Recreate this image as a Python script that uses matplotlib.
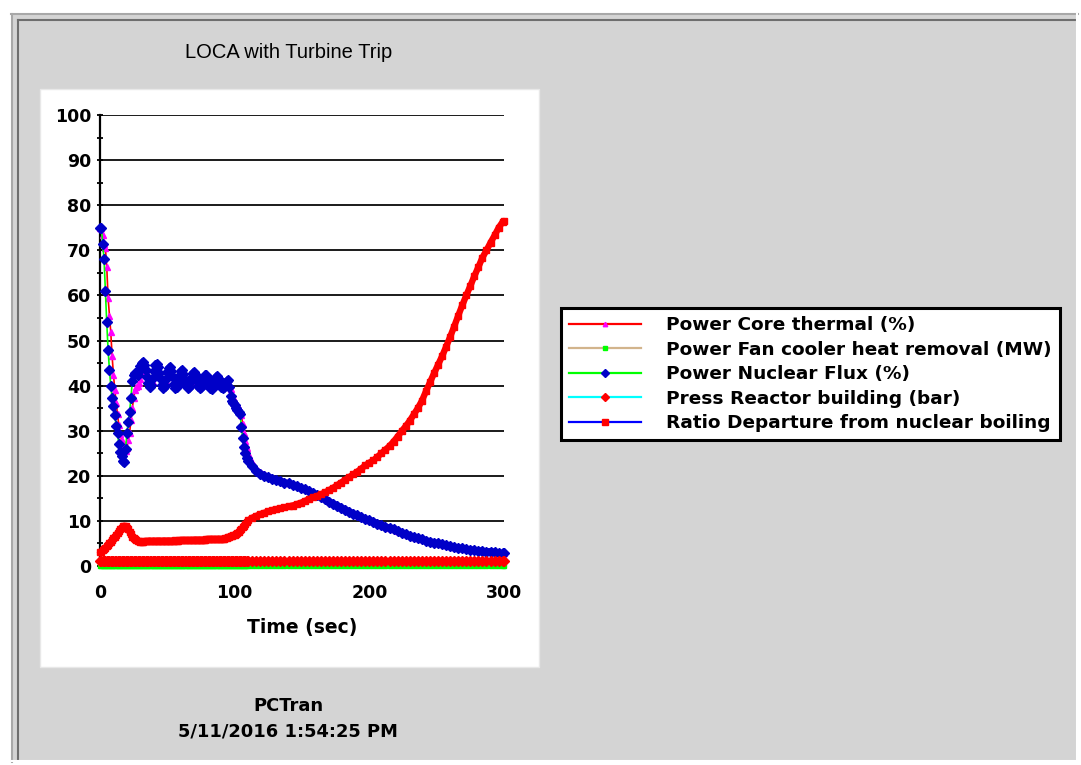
import matplotlib
matplotlib.use('Agg')
import matplotlib.pyplot as plt
from matplotlib.patches import Rectangle
from matplotlib.lines import Line2D
from matplotlib.ticker import MultipleLocator

W, H = 1081, 765

# sample times (sec): every second up to 110 s, then every 3 s
t_early = list(range(0, 111))
t_late = list(range(113, 300, 3)) + [300]

flux_early = [
    75.0, 75.0, 71.5, 68.0, 61.0, 54.0, 48.0, 43.5, 40.0, 37.2,
    35.5, 33.4, 31.1, 29.5, 27.0, 25.3, 24.3, 23.3, 23.1, 26.0,
    29.5, 32.0, 34.2, 37.3, 41.0, 42.3, 42.7, 42.7, 42.3, 43.2,
    44.3, 45.0, 45.3, 44.6, 43.4, 42.0, 40.6, 39.7, 40.2, 41.6,
    43.3, 44.5, 44.9, 44.2, 42.9, 41.4, 40.1, 39.5, 40.0, 41.5,
    43.0, 43.9, 44.1, 43.2, 41.8, 40.4, 39.5, 39.6, 40.8, 42.2,
    43.2, 43.5, 42.6, 41.3, 40.1, 39.4, 39.7, 40.9, 42.0, 42.8,
    43.0, 42.3, 41.1, 40.0, 39.4, 39.6, 40.6, 41.7, 42.3, 42.4,
    41.6, 40.4, 39.5, 39.3, 40.0, 41.1, 41.9, 42.2, 41.5, 40.4,
    39.6, 39.4, 39.8, 40.6, 41.1, 41.3, 39.6, 37.6, 36.6, 36.1,
    35.6, 35.1, 34.6, 34.2, 33.8, 30.8, 28.4, 26.3, 25.0, 24.0,
    23.3]
flux_late = [
    22.1, 21.0, 20.4, 20.0, 19.7, 19.4, 19.1, 18.8, 18.5, 18.3,
    18.0, 17.7, 17.3, 17.0, 16.6, 16.1, 15.7, 15.3, 14.8, 14.3,
    13.8, 13.4, 12.9, 12.5, 12.0, 11.6, 11.2, 10.8, 10.4, 10.1,
    9.8, 9.4, 9.1, 8.7, 8.4, 8.1, 7.7, 7.3, 7.0, 6.7,
    6.4, 6.1, 5.9, 5.6, 5.4, 5.2, 5.0, 4.8, 4.6, 4.4,
    4.2, 4.0, 3.9, 3.7, 3.6, 3.5, 3.4, 3.3, 3.2, 3.2,
    3.1, 2.9, 2.8, 2.8]

thermal_early = [
    75.0, 75.0, 73.5, 71.5, 70.5, 66.4, 59.5, 55.5, 51.8, 46.5,
    42.4, 39.0, 36.2, 33.6, 31.2, 29.2, 28.0, 26.8, 25.7, 25.5,
    26.2, 28.0, 29.6, 32.4, 35.0, 37.3, 39.0, 39.6, 40.0, 40.6,
    41.5, 42.6, 43.4, 43.6, 43.2, 42.4, 41.4, 40.6, 40.4, 40.9,
    41.9, 42.9, 43.4, 43.3, 42.6, 41.6, 40.7, 40.2, 40.4, 41.1,
    42.1, 42.8, 43.0, 42.7, 41.9, 41.0, 40.3, 40.1, 40.5, 41.3,
    42.1, 42.5, 42.4, 41.8, 41.0, 40.3, 40.1, 40.4, 41.1, 41.8,
    42.2, 42.2, 41.7, 41.0, 40.3, 40.0, 40.2, 40.8, 41.4, 41.8,
    41.8, 41.3, 40.6, 40.0, 39.8, 40.1, 40.7, 41.2, 41.4, 41.1,
    40.5, 40.0, 39.8, 40.0, 40.4, 40.7, 40.3, 39.2, 38.0, 37.2,
    36.6, 36.0, 35.5, 35.0, 34.6, 33.5, 31.5, 29.4, 27.7, 26.2,
    24.9]
thermal_late = [
    22.9, 21.5, 20.8, 20.3, 19.9, 19.6, 19.3, 19.0, 18.7, 18.5,
    18.2, 17.9, 17.5, 17.2, 16.8, 16.3, 15.9, 15.5, 15.0, 14.5,
    14.0, 13.6, 13.1, 12.7, 12.2, 11.8, 11.4, 11.0, 10.6, 10.3,
    9.9, 9.6, 9.2, 8.9, 8.5, 8.2, 7.8, 7.5, 7.1, 6.8,
    6.5, 6.2, 6.0, 5.7, 5.5, 5.3, 5.1, 4.9, 4.7, 4.5,
    4.3, 4.1, 4.0, 3.8, 3.7, 3.6, 3.5, 3.4, 3.3, 3.3,
    3.2, 3.0, 2.9, 2.9]

dnbr_early = [
    3.0, 3.2, 3.5, 3.8, 4.1, 4.4, 4.7, 5.0, 5.3, 5.7,
    6.1, 6.5, 6.9, 7.3, 7.7, 8.1, 8.5, 8.8, 8.9, 8.8,
    8.5, 8.1, 7.5, 7.0, 6.5, 6.2, 5.9, 5.7, 5.6, 5.5,
    5.4, 5.4, 5.4, 5.5, 5.5, 5.5, 5.5, 5.6, 5.5, 5.5,
    5.6, 5.5, 5.5, 5.6, 5.6, 5.5, 5.5, 5.6, 5.6, 5.5,
    5.6, 5.6, 5.6, 5.5, 5.6, 5.6, 5.7, 5.6, 5.6, 5.7,
    5.7, 5.7, 5.7, 5.7, 5.7, 5.7, 5.7, 5.7, 5.7, 5.7,
    5.8, 5.8, 5.8, 5.8, 5.8, 5.8, 5.8, 5.8, 5.8, 5.9,
    5.9, 5.9, 5.9, 5.9, 5.9, 5.9, 5.9, 5.9, 6.0, 5.9,
    5.9, 5.9, 6.0, 6.2, 6.3, 6.4, 6.5, 6.6, 6.7, 6.8,
    6.9, 7.1, 7.3, 7.6, 7.9, 8.2, 8.6, 8.9, 9.3, 9.7,
    10.1]
dnbr_late = [
    10.7, 11.1, 11.5, 11.8, 12.1, 12.4, 12.6, 12.8, 13.0, 13.2,
    13.4, 13.7, 14.0, 14.4, 14.8, 15.2, 15.5, 15.9, 16.3, 16.8,
    17.3, 17.9, 18.5, 19.1, 19.7, 20.3, 20.9, 21.6, 22.3, 22.9,
    23.4, 24.2, 25.0, 25.8, 26.6, 27.6, 28.7, 29.9, 31.0, 32.2,
    33.6, 35.0, 36.6, 38.7, 40.7, 42.7, 44.6, 46.5, 48.6, 50.8,
    53.1, 55.5, 57.8, 60.0, 62.1, 64.3, 66.3, 68.4, 70.0, 71.7,
    73.3, 75.0, 76.3, 76.5]

t = t_early + t_late
flux = flux_early + flux_late
thermal = thermal_early + thermal_late
dnbr = dnbr_early + dnbr_late
press = [1.0] * len(t)      # reactor building pressure stays ~1 bar
fan = [0.0] * len(t)        # fan cooler heat removal stays ~0

labels = ['Power Core thermal (%)',
          'Power Fan cooler heat removal (MW)',
          'Power Nuclear Flux (%)',
          'Press Reactor building (bar)',
          'Ratio Departure from nuclear boiling']

plt.rcParams['font.family'] = ['DejaVu Sans']

def fx(x):
    return x / W

def fy(y):
    return 1 - y / H

fig = plt.figure(figsize=(W / 100, H / 100), dpi=100)
fig.patch.set_facecolor('white')

# window panel with sunken border
fig.add_artist(Rectangle((fx(11), fy(762)), (1078 - 11) / W, (762 - 13) / H,
                         transform=fig.transFigure, facecolor='#d4d4d4',
                         edgecolor='none', zorder=0))
for xs, ys, c in [((11, 1078), (14, 14), '#a8a8a8'), ((12, 12), (14, 762), '#a8a8a8'),
                  ((18, 1075), (20, 20), '#6e6e6e'), ((18, 18), (20, 759), '#6e6e6e'),
                  ((12, 1078), (761, 761), 'white'), ((1077, 1077), (14, 761), 'white')]:
    fig.add_artist(Line2D([fx(xs[0]), fx(xs[1])], [fy(ys[0]), fy(ys[1])],
                          transform=fig.transFigure, color=c, lw=1.5, zorder=1))

# white chart box
fig.add_artist(Rectangle((fx(40), fy(667)), (539 - 40) / W, (667 - 89) / H,
                         transform=fig.transFigure, facecolor='white',
                         edgecolor='#e8e8e8', lw=1, zorder=1))

ax = fig.add_axes([fx(100), fy(566), (504 - 100) / W, (566 - 115) / H])
ax.set_facecolor('none')
ax.set_zorder(2)

# (x, y, line colour, marker, marker size, marker colour, band width, band from index)
series = [
    (t, thermal, 'red', '^', 4, 'magenta', 3.5, 110),
    (t, fan, '#d2b48c', 's', 3.5, '#00ff00', 2.5, 0),
    (t, flux, '#00ff00', 'D', 5, '#0000c8', 5, 110),
    (t, press, 'cyan', 'D', 5, 'red', 4.5, 0),
    (t, dnbr, 'blue', 's', 4.6, 'red', 4.6, 0),
]
handles = []
for i, (x, y, lc, mk, ms, mc, bw, b0) in enumerate(series):
    z = 3 + i
    ax.plot(x, y, color=lc, lw=1.2, clip_on=False, zorder=z)
    # densely sampled stretches show as a solid band of markers
    ax.plot(x[b0:], y[b0:], color=mc, lw=bw, clip_on=False, zorder=z + 0.1,
            solid_capstyle='round', solid_joinstyle='round')
    ax.plot(x, y, ls='none', marker=mk, ms=ms, mfc=mc, mec=mc,
            clip_on=False, zorder=z + 0.2)
    handles.append(Line2D([], [], color=lc, lw=1.6, marker=mk, ms=ms * 0.8,
                          mfc=mc, mec=mc))

ax.set_xlim(0, 300)
ax.set_ylim(0, 100)
ax.xaxis.set_major_locator(MultipleLocator(100))
ax.xaxis.set_minor_locator(MultipleLocator(50))
ax.yaxis.set_major_locator(MultipleLocator(10))
ax.yaxis.set_minor_locator(MultipleLocator(5))
ax.yaxis.grid(True, which='major', color='#1a1a1a', lw=1.4)
ax.set_axisbelow(True)
for s in ['top', 'right']:
    ax.spines[s].set_visible(False)
ax.spines['left'].set_linewidth(1.6)
ax.spines['bottom'].set_linewidth(1.4)
ax.tick_params(axis='both', which='both', direction='inout', length=4.5,
               width=1.3, labelsize=12.5)
ax.tick_params(axis='y', pad=4)
ax.tick_params(axis='x', pad=11)
for lab in ax.get_xticklabels() + ax.get_yticklabels():
    lab.set_fontweight('bold')

fig.text(fx(302), fy(628), 'Time (sec)', ha='center', va='center',
         fontsize=13.5, fontweight='bold')
fig.text(fx(289), fy(53), 'LOCA with Turbine Trip', ha='center', va='center',
         fontsize=14.5, family=['Liberation Sans', 'DejaVu Sans'])
fig.text(fx(288), fy(706), 'PCTran', ha='center', va='center',
         fontsize=12.9, fontweight='bold')
fig.text(fx(288), fy(731), '5/11/2016 1:54:25 PM', ha='center', va='center',
         fontsize=12.9, fontweight='bold')

leg = fig.legend(handles, labels, loc='upper left',
                 bbox_to_anchor=(fx(561), fy(308)),
                 prop={'weight': 'bold', 'size': 13.3},
                 handlelength=3.9, handletextpad=1.35, labelspacing=0.35,
                 borderpad=0.45, borderaxespad=0, fancybox=False,
                 framealpha=1, edgecolor='black', numpoints=1)
leg.get_frame().set_linewidth(2.2)

plt.savefig('out.png', dpi=100, facecolor=fig.get_facecolor())
